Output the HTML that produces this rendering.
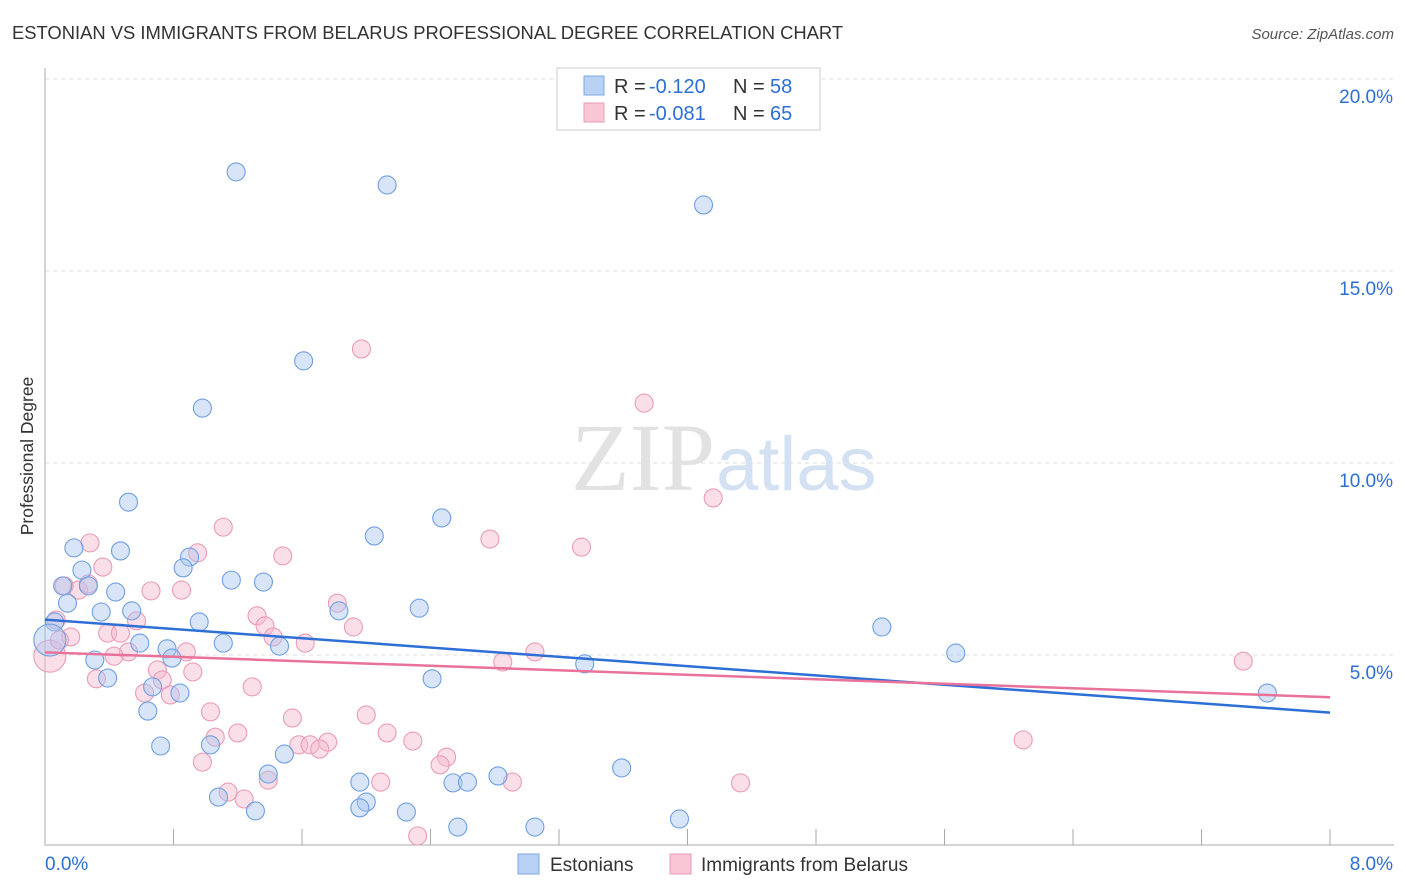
<!DOCTYPE html>
<html><head><meta charset="utf-8"><style>
body{margin:0;background:#fff;font-family:"Liberation Sans",sans-serif;}
#wrap{position:relative;width:1406px;height:892px;overflow:hidden;}
svg{position:absolute;left:0;top:0;}
</style></head><body>
<div id="wrap">
<svg id="chart" width="1406" height="892">
<text x="12" y="39" font-size="18.4" fill="#333">ESTONIAN VS IMMIGRANTS FROM BELARUS PROFESSIONAL DEGREE CORRELATION CHART</text>
<text x="1394" y="39" font-size="15" fill="#555" font-style="italic" text-anchor="end">Source: ZipAtlas.com</text>
<text transform="translate(33,456) rotate(-90)" font-size="17.5" fill="#333" text-anchor="middle">Professional Degree</text>
<g id="grid"></g>
<text x="715" y="490" font-size="96" fill="#e2e2e2" text-anchor="end" font-family="Liberation Serif,serif">ZIP</text>
<text x="716" y="490" font-size="76" fill="#d3e1f3">atlas</text>
<g id="pts"></g>
<g id="lines"></g>
<g>
<rect x="557" y="68" width="263" height="62" fill="#fff" stroke="#ccc"/>
<rect x="584" y="76" width="20" height="19" fill="#b9d1f3" stroke="#7fa9e6"/>
<text x="614" y="93" font-size="20" fill="#333">R =</text>
<text x="649" y="93" font-size="20" fill="#2d6fd6">-0.120</text>
<text x="733" y="93" font-size="20" fill="#333">N =</text>
<text x="770" y="93" font-size="20" fill="#2d6fd6">58</text>
<rect x="584" y="103" width="20" height="19" fill="#f8c6d5" stroke="#ec9bb5"/>
<text x="614" y="120" font-size="20" fill="#333">R =</text>
<text x="649" y="120" font-size="20" fill="#2d6fd6">-0.081</text>
<text x="733" y="120" font-size="20" fill="#333">N =</text>
<text x="770" y="120" font-size="20" fill="#2d6fd6">65</text>
</g>
<g>
<rect x="518" y="854" width="21" height="20" fill="#b9d1f3" stroke="#7fa9e6"/>
<text x="550" y="871" font-size="19" fill="#333">Estonians</text>
<rect x="670" y="854" width="21" height="20" fill="#f8c6d5" stroke="#ec9bb5"/>
<text x="701" y="871" font-size="19" fill="#333">Immigrants from Belarus</text>
</g>
</svg>
</div>
<script>
const yTicks=[5,10,15,20];
const xTickLabels=["0.0%","8.0%"];
const blueX=[1.19,2.13,4.10,1.61,0.98,0.52,2.47,2.05,0.18,0.47,0.90,0.86,0.23,1.16,1.36,0.11,0.27,0.44,0.14,0.35,0.54,2.33,1.83,0.96,0.06,5.21,0.59,1.11,1.46,0.76,0.79,0.31,5.67,3.36,0.39,2.41,0.67,0.84,0.64,0.72,1.03,1.49,1.39,3.59,1.96,2.54,2.63,2.82,1.08,2.00,1.96,2.25,1.31,3.95,2.57,3.05,7.61,0.03];
const blueY=[17.58,17.24,16.72,12.66,11.43,8.98,8.57,8.10,7.79,7.71,7.55,7.27,7.21,6.95,6.90,6.80,6.80,6.64,6.35,6.12,6.15,6.22,6.15,5.86,5.86,5.73,5.31,5.31,5.23,5.16,4.92,4.87,5.05,4.77,4.40,4.38,4.17,4.01,3.54,2.63,2.66,2.42,1.90,2.06,1.69,1.67,1.69,1.85,1.30,1.17,1.02,0.91,0.94,0.73,0.52,0.52,4.01,5.39];
const pinkX=[1.97,3.73,4.16,1.11,2.77,3.34,0.28,0.95,1.48,0.36,0.12,0.21,0.27,0.66,0.85,1.82,1.32,0.07,0.57,1.37,1.92,0.39,0.47,0.16,1.42,1.62,3.05,0.88,0.52,0.43,0.03,2.85,0.70,0.92,0.73,0.32,1.29,0.62,0.78,1.03,1.54,2.00,1.06,1.20,2.13,2.29,1.76,1.58,1.65,1.71,2.50,2.46,0.98,1.14,1.39,2.09,2.91,1.24,2.32,4.33,6.09,7.46,0.09];
const pinkY=[12.97,11.56,9.09,8.33,8.02,7.81,7.92,7.66,7.58,7.29,6.80,6.69,6.85,6.67,6.69,6.35,6.02,5.91,5.89,5.76,5.73,5.57,5.57,5.47,5.47,5.31,5.08,5.08,5.08,4.97,4.97,4.82,4.61,4.56,4.35,4.38,4.17,4.01,3.96,3.52,3.36,3.44,2.86,2.97,2.97,2.76,2.73,2.66,2.66,2.55,2.34,2.14,2.21,1.43,1.74,1.69,1.69,1.25,0.29,1.67,2.79,4.84,5.39];
const blueTrend=[5.92,3.50];
const pinkTrend=[5.07,3.90];
const NS="http://www.w3.org/2000/svg";
const X0=45,X1=1330,Y0=847,PXY=38.4;
const sx=v=>X0+(X1-X0)*v/8;
const sy=v=>Y0-v*PXY;
function mk(tag,attrs,parent){const e=document.createElementNS(NS,tag);for(const k in attrs)e.setAttribute(k,attrs[k]);parent.appendChild(e);return e;}
const grid=document.getElementById('grid');
yTicks.forEach(t=>{
 const l=mk('line',{x1:X0,x2:1394,y1:sy(t),y2:sy(t),stroke:'#ddd','stroke-dasharray':'4 4'},grid);
 
 
 const tx=mk('text',{x:1393,y:sy(t)+24,'font-size':19,fill:'#2d6fd6','text-anchor':'end'},grid);
 tx.textContent=t.toFixed(1)+'%';
 
 
});
const ax=mk('line',{x1:X0,x2:X0,y1:68,y2:845,stroke:'#aaa'},grid);


const bx=mk('line',{x1:X0,x2:1394,y1:845,y2:845,stroke:'#aaa'},grid);


for(let i=0;i<=10;i++){const v=i*0.8;
 const tk=mk('line',{x1:sx(v),x2:sx(v),y1:829,y2:845,stroke:'#aaa'},grid);
 
 }
[[0,'start',45],[8,'end',1393]].forEach((d,i)=>{
 const t=mk('text',{x:d[2],y:870,'font-size':19,fill:'#2d6fd6','text-anchor':d[1]},grid);
 t.textContent=xTickLabels[i];
 
 });
const pts=document.getElementById('pts');
function drawPts(xs,ys,fill,stroke,name){xs.forEach((x,i)=>{
 const r=(x<0.05)?16:9;
 const c=mk('circle',{cx:sx(x),cy:sy(ys[i]),r:r,fill:fill,'fill-opacity':0.45,stroke:stroke,'stroke-width':1.1},pts);
 
 });}
drawPts(pinkX,pinkY,'#f5b8cb','#ec9bb5','belarus-point');
drawPts(blueX,blueY,'#a9c6f0','#6f9fe3','estonian-point');
const lines=document.getElementById('lines');
const bl=mk('line',{x1:sx(0),y1:sy(blueTrend[0]),x2:sx(8),y2:sy(blueTrend[1]),stroke:'#2d6fd6','stroke-width':2.5},lines);


const pl=mk('line',{x1:sx(0),y1:sy(pinkTrend[0]),x2:sx(8),y2:sy(pinkTrend[1]),stroke:'#e8729a','stroke-width':2.5},lines);


</script>
</body></html>
